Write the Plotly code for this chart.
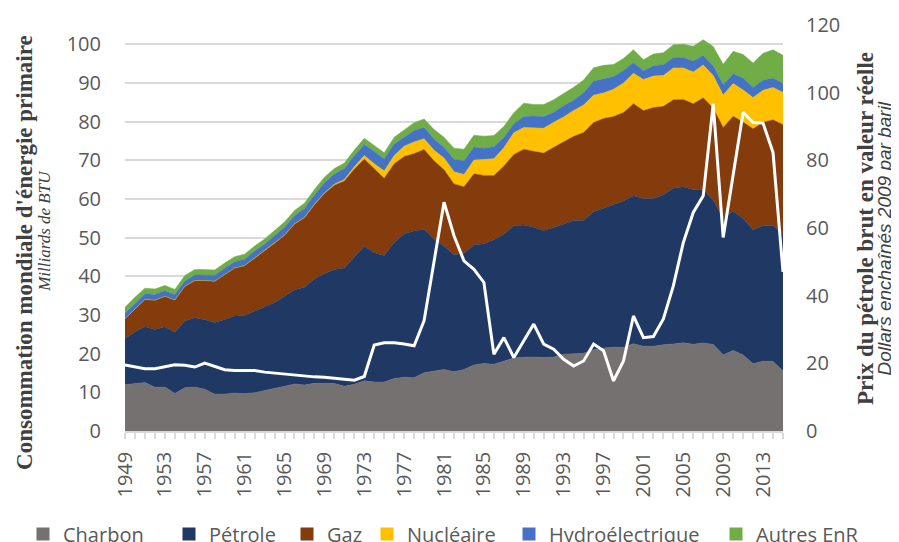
import plotly.graph_objects as go

# Années 1949 -> 2015
years = list(range(1949, 2016))

# Consommation d'énergie primaire par source (milliards de BTU)
charbon = [11.98, 12.35, 12.55, 11.31, 11.37, 9.72, 11.17, 11.35, 10.82, 9.53,
           9.52, 9.84, 9.62, 9.91, 10.41, 10.96, 11.58, 12.14, 11.91, 12.33,
           12.38, 12.27, 11.60, 12.08, 12.97, 12.66, 12.66, 13.58, 13.92, 13.77,
           15.04, 15.42, 15.91, 15.32, 15.89, 17.07, 17.48, 17.26, 18.01, 18.85,
           19.07, 19.17, 18.99, 19.12, 19.84, 19.91, 20.09, 21.00, 21.45, 21.66,
           21.62, 22.58, 21.91, 21.90, 22.32, 22.47, 22.80, 22.45, 22.75, 22.39,
           19.69, 20.83, 19.66, 17.38, 18.04, 17.99, 15.55]
petrole = [11.88, 13.32, 14.43, 14.96, 15.56, 15.84, 17.25, 17.94, 17.93, 18.53,
           19.32, 19.92, 20.22, 21.05, 21.70, 22.30, 23.25, 24.40, 25.28, 26.98,
           28.34, 29.52, 30.56, 32.95, 34.84, 33.45, 32.73, 35.18, 37.12, 37.97,
           37.12, 34.20, 31.93, 30.23, 30.05, 31.05, 30.92, 32.20, 32.87, 34.22,
           34.21, 33.55, 32.85, 33.53, 33.74, 34.56, 34.44, 35.68, 36.16, 36.82,
           37.84, 38.26, 38.19, 38.23, 38.81, 40.29, 40.39, 39.96, 39.77, 37.28,
           35.40, 36.01, 35.30, 34.69, 35.01, 35.10, 35.49]
gaz = [5.15, 5.97, 7.05, 7.55, 7.91, 8.33, 9.00, 9.61, 10.19, 10.66,
       11.72, 12.39, 12.93, 13.73, 14.40, 15.29, 15.77, 16.99, 17.94, 19.21,
       20.68, 21.79, 22.47, 22.70, 22.51, 21.73, 19.95, 20.35, 19.93, 20.00,
       20.67, 20.24, 19.75, 18.36, 17.22, 18.39, 17.70, 16.59, 17.64, 18.45,
       19.60, 19.60, 20.03, 20.71, 21.23, 21.73, 22.67, 23.08, 23.22, 22.83,
       22.91, 23.82, 22.77, 23.51, 22.83, 22.91, 22.56, 22.22, 23.66, 23.84,
       23.42, 24.57, 24.95, 26.09, 26.81, 27.38, 28.19]
nucleaire = [0, 0, 0, 0, 0, 0, 0, 0, 0, 0,
             0, 0.01, 0.02, 0.03, 0.04, 0.04, 0.04, 0.06, 0.09, 0.14,
             0.15, 0.24, 0.41, 0.58, 0.91, 1.27, 1.90, 2.11, 2.70, 3.02,
             2.78, 2.74, 3.01, 3.13, 3.20, 3.55, 4.08, 4.38, 4.75, 5.59,
             5.60, 6.10, 6.42, 6.48, 6.41, 6.69, 7.08, 7.09, 6.60, 7.07,
             7.61, 7.86, 8.03, 8.14, 7.96, 8.22, 8.16, 8.21, 8.46, 8.43,
             8.36, 8.43, 8.27, 8.06, 8.27, 8.34, 8.34]
hydro = [1.42, 1.42, 1.45, 1.50, 1.44, 1.39, 1.36, 1.43, 1.46, 1.59,
         1.55, 1.61, 1.66, 1.82, 1.77, 1.89, 2.06, 2.06, 2.35, 2.35,
         2.65, 2.63, 2.82, 2.86, 2.86, 3.18, 3.15, 2.98, 2.33, 2.94,
         2.93, 2.90, 2.76, 3.27, 3.53, 3.39, 2.97, 3.07, 2.63, 2.33,
         2.84, 3.05, 3.02, 2.62, 2.89, 2.68, 3.21, 3.59, 3.64, 3.30,
         3.27, 2.81, 2.24, 2.69, 2.83, 2.69, 2.70, 2.87, 2.45, 2.51,
         2.67, 2.54, 3.10, 2.63, 2.56, 2.47, 2.32]
autres_enr = [1.55, 1.56, 1.45, 1.41, 1.38, 1.34, 1.42, 1.41, 1.34, 1.34,
              1.35, 1.32, 1.29, 1.30, 1.32, 1.34, 1.34, 1.37, 1.34, 1.43,
              1.45, 1.44, 1.44, 1.51, 1.59, 1.56, 1.54, 1.74, 1.87, 2.04,
              2.15, 2.48, 2.60, 2.84, 2.99, 3.04, 3.10, 2.92, 2.85, 2.88,
              3.47, 3.00, 3.10, 3.20, 3.20, 3.30, 3.30, 3.50, 3.50, 3.10,
              3.10, 3.30, 2.90, 3.00, 3.10, 3.30, 3.40, 3.80, 4.10, 5.00,
              5.30, 5.80, 6.10, 6.30, 7.00, 7.30, 7.30]

# Prix du pétrole brut (dollars enchaînés 2009 par baril)
prix_petrole = [19.5, 19.0, 18.4, 18.4, 19.0, 19.6, 19.4, 18.9, 20.1, 19.1,
                18.1, 17.9, 17.9, 17.9, 17.4, 17.1, 16.7, 16.6, 16.3, 16.0,
                15.9, 15.6, 15.5, 15.0, 16.1, 25.4, 26.1, 26.1, 25.7, 25.2,
                32.6, 50.0, 67.6, 57.7, 50.3, 47.8, 43.9, 22.7, 27.6, 21.7,
                26.6, 31.6, 25.7, 24.2, 21.2, 19.2, 20.7, 25.7, 23.7, 14.8,
                20.7, 34.0, 27.6, 27.9, 33.1, 42.9, 55.7, 64.6, 69.5, 96.7,
                57.2, 75.5, 94.2, 91.2, 91.0, 82.3, 47.0]

sources = ["Charbon", "Pétrole", "Gaz", "Nucléaire", "Hydroélectrique", "Autres EnR"]
colors = ["#767171", "#203864", "#843C0C", "#FFC000", "#4472C4", "#70AD47"]
series = [charbon, petrole, gaz, nucleaire, hydro, autres_enr]

TICK_FONT = dict(family="Open Sans", size=20, color="#595959")
GRID = "#D9D9D9"

# plot area: x 125..783 px, y 25..431 px in the final page
PLOT_L, PLOT_W = 125, 658

fig = go.Figure()

for name, values, color in zip(sources, series, colors):
    fig.add_trace(go.Scatter(
        x=years, y=values,
        name=name,
        stackgroup="energie",
        mode="lines",
        line=dict(width=0.5, color=color),
        fillcolor=color,
        showlegend=False,
        hovertemplate=f"<b>{name}</b> %{{x}}: %{{y:.1f}}<extra></extra>"
    ))

# une légende par entrée pour garder l'espacement d'origine
legend_text_x = [63, 209, 327, 407, 549, 756]
legend_layouts = {}
for i, (name, color, tx) in enumerate(zip(sources, colors, legend_text_x)):
    key = "legend" if i == 0 else f"legend{i + 1}"
    fig.add_trace(go.Scatter(
        x=[None], y=[None],
        name=name,
        mode="markers",
        marker=dict(symbol="square", size=13, color=color),
        showlegend=True,
        legend=key
    ))
    legend_layouts[key] = dict(
        orientation="h",
        x=(tx - 40 - PLOT_L) / PLOT_W, xanchor="left",
        y=-0.254, yanchor="middle",
        font=dict(family="Open Sans", size=20, color="#595959"),
        bgcolor="rgba(0,0,0,0)",
    )

fig.add_trace(go.Scatter(
    x=years, y=prix_petrole,
    name="Prix du pétrole",
    yaxis="y2",
    mode="lines",
    line=dict(color="white", width=3),
    showlegend=False,
    hovertemplate="%{x}: %{y:.1f} $<extra></extra>"
))

# la page ajoute une marge de 8 px autour du graphique
fig.update_layout(
    width=891,
    height=534,
    margin=dict(l=117, r=116, t=17, b=111, autoexpand=False),
    paper_bgcolor="white",
    plot_bgcolor="white",
    xaxis=dict(
        range=[1949, 2015],
        tickmode="linear", tick0=1949, dtick=4,
        tickangle=-90,
        ticks="outside", ticklen=6, tickcolor=GRID, tickwidth=1.5,
        minor=dict(dtick=1, ticks="outside", ticklen=6, tickcolor=GRID, tickwidth=1.5, showgrid=False),
        showline=True, linecolor=GRID, linewidth=1.5,
        showgrid=False, zeroline=False,
        ticklabelstandoff=5,
        tickfont=TICK_FONT,
    ),
    yaxis=dict(
        range=[0, 105],
        tickmode="linear", tick0=0, dtick=10,
        showgrid=True, gridcolor=GRID, gridwidth=1.5,
        zeroline=False, showline=False,
        ticklabelstandoff=23,
        tickfont=TICK_FONT,
    ),
    yaxis2=dict(
        overlaying="y", side="right",
        range=[0, 120],
        tickmode="linear", tick0=0, dtick=20,
        showgrid=False, zeroline=False, showline=False,
        ticklabelstandoff=22,
        tickfont=TICK_FONT,
    ),
    **legend_layouts,
)

# titres des axes (deux lignes, verticaux)
titles = [
    ("<b>Consommation mondiale d'énergie primaire</b>", -0.152, 0.441,
     dict(family="Liberation Serif", size=23, color="#404040")),
    ("<i>Milliards de BTU</i>", -0.1216, 0.493,
     dict(family="Liberation Serif", size=17, color="#404040")),
    ("<b>Prix du pétrole brut en valeur réelle</b>", 1.1246, 0.5,
     dict(family="Liberation Serif", size=23, color="#404040")),
    ("<i>Dollars enchaînés 2009 par baril</i>", 1.154, 0.475,
     dict(family="Liberation Sans", size=19, color="#404040")),
]
for text, x, y, font in titles:
    fig.add_annotation(
        text=text, x=x, y=y, xref="paper", yref="paper",
        xanchor="center", yanchor="middle",
        textangle=-90, showarrow=False, font=font
    )

fig.write_html("out.html")
